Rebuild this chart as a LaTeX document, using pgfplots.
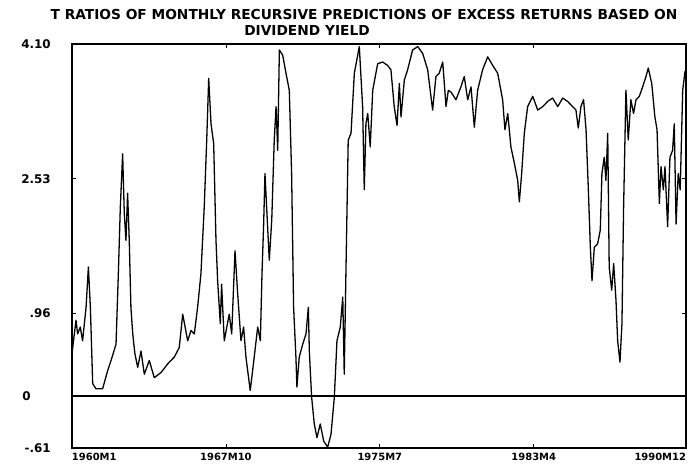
\documentclass[border=0pt]{standalone}
\usepackage{pgfplots}
\pgfplotsset{compat=1.18}
\usepackage{fontspec}
\setmainfont{DejaVu Sans}

\begin{document}
\begin{tikzpicture}
\path[use as bounding box] (-72bp,-24bp) rectangle (618bp,448bp);
\begin{axis}[
    at={(0,0)}, anchor=south west,
    scale only axis,
    width=614bp, height=404bp,
    xmin=0, xmax=371, ymin=-0.61, ymax=4.10,
    axis line style={line width=1.5pt},
    tick style={black, line width=0.8pt},
    major tick length=4bp,
    xtick={0,93,186,279,371},
    xticklabels={\rlap{1960M1},1967M10,1975M7,1983M4,\llap{1990M12}},
    ytick={-0.61,0,0.96,2.53,4.10},
    yticklabels={-.61,0\kern20bp,.96,2.53,4.10},
    xticklabel style={font=\bfseries\fontsize{10}{12}\selectfont, inner sep=0pt, yshift=-5bp},
    yticklabel style={font=\bfseries\fontsize{12}{14}\selectfont, anchor=east, inner sep=0pt, xshift=-21bp},
]
\addplot[black, line width=1.7pt] coordinates {(0,0) (371,0)};
\addplot[black, line width=1.3pt, line join=round] coordinates {
(0,0.49) (2.4,0.88) (3.4,0.72) (5.0,0.80) (6.4,0.64) (8.5,1.03) (9.9,1.50)
(11.1,1.03) (12.5,0.14) (14.5,0.08) (18.5,0.08) (21.5,0.29) (23.6,0.41)
(26.6,0.60) (28.0,1.42) (29.2,2.20) (30.6,2.82) (31.6,2.12) (32.6,1.81)
(33.6,2.36) (34.6,1.81) (35.6,1.03) (36.7,0.72) (38.0,0.49) (39.7,0.33)
(41.7,0.52) (43.7,0.25) (46.7,0.41) (49.7,0.21) (53.8,0.27) (57.8,0.37)
(61.8,0.45) (64.8,0.56) (66.9,0.95) (69.9,0.64) (71.9,0.76) (73.9,0.72)
(75.9,1.03) (77.9,1.42) (79.9,2.20) (81.4,2.98) (82.6,3.70) (84.0,3.17)
(85.6,2.94) (87.0,1.81) (88.0,1.34) (89.6,0.84) (90.4,1.30) (92.0,0.64)
(95.0,0.95) (96.5,0.72) (98.5,1.69) (100.1,1.19) (102.1,0.64) (103.7,0.80)
(105.1,0.45) (107.7,0.06) (110.1,0.45) (112.2,0.80) (113.8,0.64) (114.8,1.42)
(115.8,2.00) (116.6,2.59) (117.8,2.12) (119.2,1.58) (120.7,2.05) (122.2,2.98)
(123.3,3.37) (124.3,2.86) (125.3,4.03) (127.3,3.97) (129.3,3.76) (131.3,3.56)
(132.7,2.59) (133.9,1.03) (135.3,0.45) (135.9,0.10) (137.3,0.45) (139.4,0.60)
(141.4,0.72) (142.8,1.03) (143.4,0.52) (144.8,-0.02) (146.4,-0.33) (148.0,-0.49)
(150.0,-0.33) (152.1,-0.53) (154.5,-0.60) (156.5,-0.45) (158.5,-0.02) (160.1,0.64)
(162.1,0.80) (163.6,1.15) (164.5,0.25) (165.5,1.42) (166.9,2.98) (168.6,3.06)
(170.6,3.76) (173.6,4.07) (175.6,3.37) (176.6,2.40) (177.6,3.17) (178.7,3.29)
(180.2,2.90) (181.7,3.56) (184.7,3.87) (187.7,3.89) (190.7,3.85) (192.7,3.80)
(194.7,3.37) (196.4,3.15) (197.8,3.64) (198.8,3.25) (200.8,3.68) (202.8,3.80)
(205.8,4.03) (208.9,4.07) (211.9,3.99) (214.9,3.80) (217.9,3.33) (219.9,3.72)
(221.9,3.76) (224.0,3.89) (226.0,3.37) (227.4,3.56) (229.0,3.54) (232.0,3.45)
(235.0,3.60) (237.0,3.72) (239.1,3.45) (241.1,3.60) (243.1,3.13) (245.1,3.56)
(248.1,3.80) (251.2,3.95) (254.2,3.85) (257.2,3.76) (260.2,3.45) (261.6,3.10)
(263.3,3.29) (265.2,2.90) (267.3,2.71) (269.3,2.51) (270.3,2.26) (271.7,2.59)
(273.3,3.06) (275.3,3.37) (278.4,3.49) (281.4,3.33) (284.4,3.37) (287.4,3.43)
(290.4,3.47) (293.5,3.37) (296.5,3.47) (299.5,3.43) (302.5,3.37) (304.5,3.33)
(305.9,3.12) (307.5,3.37) (309.1,3.45) (310.6,3.10) (312.0,2.40) (313.2,1.73)
(314.2,1.34) (315.6,1.73) (317.6,1.77) (319.2,1.93) (320.2,2.59) (321.6,2.78)
(322.6,2.51) (323.7,3.06) (324.6,1.50) (326.1,1.23) (327.3,1.54) (328.7,1.11)
(329.7,0.64) (331.1,0.39) (332.3,0.84) (333.3,2.20) (334.7,3.56) (336.1,2.98)
(337.7,3.45) (339.3,3.29) (340.8,3.45) (342.8,3.49) (344.8,3.60) (346.8,3.72)
(348.2,3.82) (350.3,3.64) (352.2,3.25) (353.5,3.10) (354.9,2.24) (355.9,2.67)
(357.3,2.40) (358.3,2.67) (359.9,1.97) (361.3,2.78) (362.9,2.86) (363.9,3.17)
(365.0,2.00) (366.3,2.59) (367.5,2.40) (369.0,3.56) (370.4,3.78) (371,3.75)
};
\end{axis}
\node[font=\bfseries\fontsize{13.8}{15}\selectfont, inner sep=0pt] at (292bp,433bp)
    {T RATIOS OF MONTHLY RECURSIVE PREDICTIONS OF EXCESS RETURNS BASED ON};
\node[font=\bfseries\fontsize{13.8}{15}\selectfont, inner sep=0pt] at (235bp,418bp)
    {DIVIDEND YIELD};
\end{tikzpicture}
\end{document}
